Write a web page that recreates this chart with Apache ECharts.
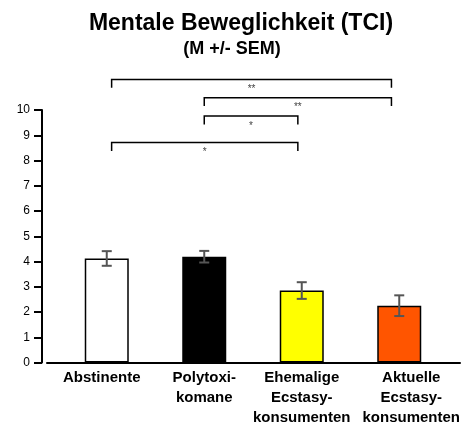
<!DOCTYPE html>
<html>
<head>
<meta charset="utf-8">
<script src="https://cdn.jsdelivr.net/npm/echarts@6/dist/echarts.min.js"></script>
<style>
  html, body { margin: 0; padding: 0; background: #fff; }
  #chart { width: 467px; height: 423px; }
</style>
</head>
<body>
<div id="chart"></div>
<script>
// Groups and their mean scores with standard errors
var categories = ['Abstinente', 'Polytoxi-\nkomane', 'Ehemalige\nEcstasy-\nkonsumenten', 'Aktuelle\nEcstasy-\nkonsumenten'];
var means = [4.12, 4.19, 2.85, 2.25];
var sems = [0.29, 0.23, 0.33, 0.41];
var barColors = ['#ffffff', '#000000', '#ffff00', '#ff5500'];
var yTicks = [0, 1, 2, 3, 4, 5, 6, 7, 8, 9, 10];

// Significance brackets: [from group, to group, height on value scale]
var bracketFrom = [0, 1, 1, 0];
var bracketTo = [3, 3, 2, 2];
var bracketLevel = [11.21, 10.49, 9.76, 8.71];
var bracketMarks = ['**', '**', '*', '*'];

var FONT = '"Liberation Sans", Arial, Helvetica, sans-serif';
var chart = echarts.init(document.getElementById('chart'), null, { renderer: 'canvas' });

// small horizontal nudge of bracket legs per group, as a share of the band width
var legNudge = [0.05, 0, -0.04, -0.08];
// label placement per group, as pixel padding around the centred text
var labelPad = [[0, 10, 0, 0], [0, 0, 0, 0], [0, 0, 0, 0], [0, 0, 0, 24]];

var GRID_TOP = 110, GRID_BOTTOM = 60.5;

function gridBox(left, right, bottom) {
  return {
    left: left, right: right, top: GRID_TOP, bottom: bottom,
    containLabel: false, outerBoundsMode: 'none'
  };
}

var option = {
  animation: false,
  backgroundColor: '#ffffff',
  title: [{
    text: 'Mentale Beweglichkeit (TCI)',
    left: 236, top: 7, textAlign: 'center',
    textStyle: { fontFamily: FONT, fontSize: 23, fontWeight: 'bold', color: '#000' }
  }, {
    text: '(M +/- SEM)',
    left: 227, top: 35, textAlign: 'center',
    textStyle: { fontFamily: FONT, fontSize: 18, fontWeight: 'bold', color: '#000' }
  }],
  grid: [
    gridBox(58, 19, GRID_BOTTOM),   // bars
    gridBox(42, 7, GRID_BOTTOM),    // value axis
    gridBox(47, 7, 60)              // base line under the bars
  ],
  xAxis: [{
    gridIndex: 0,
    type: 'category',
    data: categories.map(function (c, i) {
      return { value: c, textStyle: { padding: labelPad[i] } };
    }),
    axisLine: { show: false },
    axisTick: { show: false },
    axisLabel: {
      interval: 0, margin: 5, hideOverlap: false,
      fontFamily: FONT, fontSize: 15, fontWeight: 'bold', color: '#000', lineHeight: 20
    }
  }, {
    gridIndex: 1, type: 'value', min: 0, max: 1, show: false
  }, {
    gridIndex: 2,
    type: 'value', min: 0, max: 1,
    axisLine: { show: true, lineStyle: { color: '#000', width: 2 } },
    axisTick: { show: false }, axisLabel: { show: false }, splitLine: { show: false }
  }],
  yAxis: [{
    gridIndex: 0, type: 'value', min: yTicks[0], max: yTicks[yTicks.length - 1], show: false
  }, {
    gridIndex: 1,
    type: 'value', min: yTicks[0], max: yTicks[yTicks.length - 1], interval: 1,
    axisLine: { show: true, lineStyle: { color: '#000', width: 2 } },
    axisTick: { show: true, length: 8, lineStyle: { color: '#000', width: 2 } },
    axisLabel: { margin: 12, fontFamily: FONT, fontSize: 12, color: '#000' },
    splitLine: { show: false }
  }, {
    gridIndex: 2, type: 'value', min: 0, max: 1, show: false
  }],
  series: [{
    type: 'bar',
    xAxisIndex: 0, yAxisIndex: 0,
    barWidth: 44,
    data: means.map(function (m, i) {
      return { value: m, itemStyle: { color: barColors[i], borderColor: '#000', borderWidth: 1.5 } };
    }),
    z: 2
  }, {
    // error bars
    type: 'custom',
    xAxisIndex: 0, yAxisIndex: 0,
    z: 5,
    data: means.map(function (m, i) { return [i, m - sems[i], m + sems[i]]; }),
    renderItem: function (params, api) {
      var lo = api.coord([api.value(0), api.value(1)]);
      var hi = api.coord([api.value(0), api.value(2)]);
      var w = 5;
      var st = { stroke: '#555', lineWidth: 2, fill: null };
      return {
        type: 'group',
        children: [
          { type: 'line', shape: { x1: lo[0], y1: lo[1], x2: hi[0], y2: hi[1] }, style: st },
          { type: 'line', shape: { x1: lo[0] - w, y1: lo[1], x2: lo[0] + w, y2: lo[1] }, style: st },
          { type: 'line', shape: { x1: hi[0] - w, y1: hi[1], x2: hi[0] + w, y2: hi[1] }, style: st }
        ]
      };
    }
  }, {
    // significance brackets
    type: 'custom',
    xAxisIndex: 0, yAxisIndex: 0,
    clip: false,
    z: 6,
    data: bracketFrom.map(function (f, i) { return [f, bracketTo[i], bracketLevel[i], i]; }),
    renderItem: function (params, api) {
      var f = api.value(0), t = api.value(1), lvl = api.value(2), idx = api.value(3);
      var band = api.size([1, 0])[0];
      var a = api.coord([f, lvl]);
      var b = api.coord([t, lvl]);
      var x1 = a[0] + legNudge[f] * band;
      var x2 = b[0] + legNudge[t] * band;
      var drop = api.size([0, 0.33])[1];
      var st = { stroke: '#000', lineWidth: 1.5, fill: null };
      return {
        type: 'group',
        children: [
          { type: 'polyline', shape: { points: [[x1, a[1] + drop], [x1, a[1]], [x2, a[1]], [x2, a[1] + drop]] }, style: st },
          { type: 'text', style: {
              text: bracketMarks[idx], x: (x1 + x2) / 2, y: a[1] + 10,
              align: 'center', verticalAlign: 'middle',
              font: '10px ' + FONT, fill: '#444'
          } }
        ]
      };
    }
  }]
};
chart.setOption(option);
</script>
</body>
</html>
